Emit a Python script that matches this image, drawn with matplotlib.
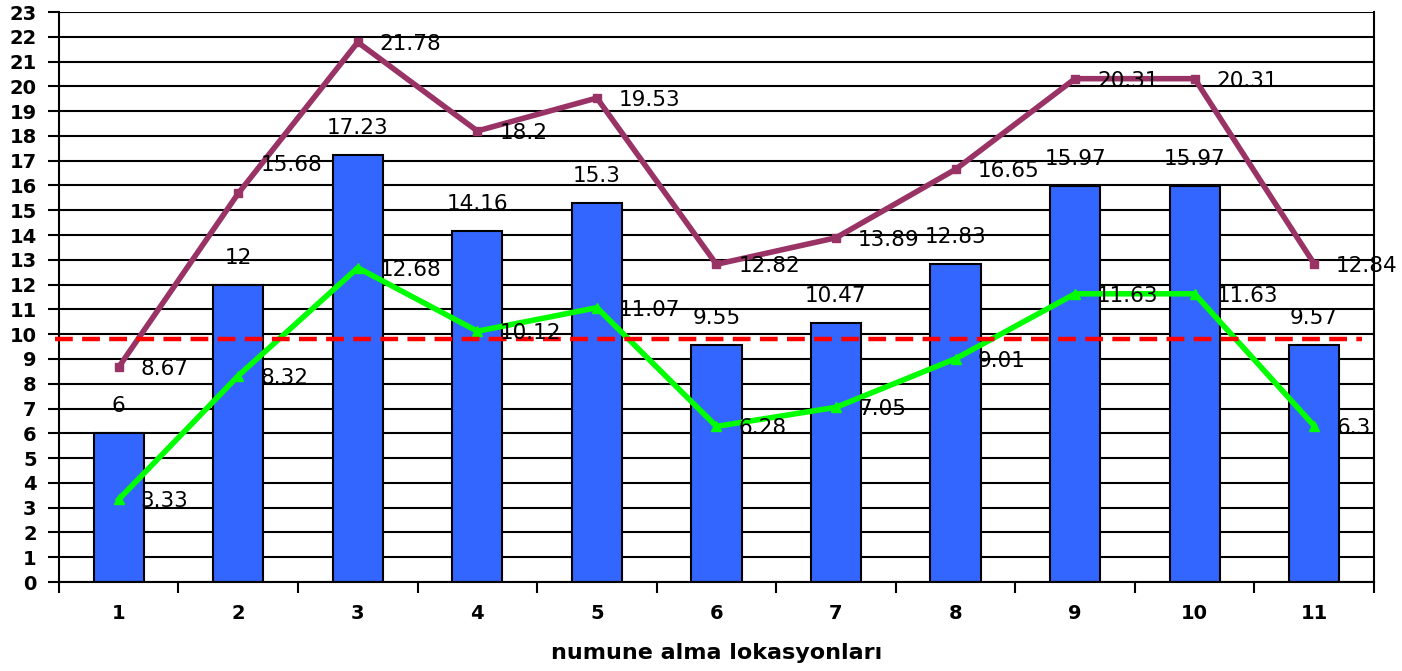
import numpy as np
import matplotlib
matplotlib.use('Agg')
import matplotlib.pyplot as plt

plt.rcParams['font.family'] = ['DejaVu Sans']

# veriler
lokasyon = ['1', '2', '3', '4', '5', '6', '7', '8', '9', '10', '11']
sutun = [6, 12, 17.23, 14.16, 15.3, 9.55, 10.47, 12.83, 15.97, 15.97, 9.57]
mor = [8.67, 15.68, 21.78, 18.2, 19.53, 12.82, 13.89, 16.65, 20.31, 20.31, 12.84]
yesil = [3.33, 8.32, 12.68, 10.12, 11.07, 6.28, 7.05, 9.01, 11.63, 11.63, 6.3]
sinir = 9.8

fig = plt.figure(figsize=(14.02, 6.71), dpi=100)
ax = fig.add_axes([0.042, 0.1326, 0.938, 0.8495])

x = np.arange(len(lokasyon))
ax.set_axisbelow(True)
ax.yaxis.grid(True, color='black', lw=1.5)

ax.bar(x, sutun, width=0.42, color='#3366FF', edgecolor='black', lw=1.5, zorder=2)
ax.plot(x, mor, color='#993366', lw=4, marker='s', ms=6, zorder=3)
ax.plot(x, yesil, color='#00FF00', lw=4, marker='^', ms=7, zorder=4)
ax.plot([-0.53, len(x) - 0.6], [sinir, sinir], color='#FF0000', lw=3.2,
        dashes=(4.0, 2.1), zorder=5, clip_on=False)

# etiketler
for i, v in enumerate(sutun):
    ax.annotate(f'{v:g}', (i, v), xytext=(0, 27), textcoords='offset pixels',
                ha='center', va='center', fontsize=15.5, zorder=6)
for i, v in enumerate(mor):
    dy = 28 if i == 1 else -2
    ax.annotate(f'{v:g}', (i, v), xytext=(22, dy), textcoords='offset pixels',
                ha='left', va='center', fontsize=15.5, zorder=6)
for i, v in enumerate(yesil):
    ax.annotate(f'{v:g}', (i, v), xytext=(22, -2), textcoords='offset pixels',
                ha='left', va='center', fontsize=15.5, zorder=6)

ax.set_xlim(-0.5, len(x) - 0.5)
ax.set_ylim(0, 23)
ax.set_yticks(range(0, 24))
ax.set_xticks(x)
ax.set_xticklabels(lokasyon)
ax.set_xticks(np.arange(-0.5, len(x)), minor=True)
ax.tick_params(axis='x', which='major', length=0, pad=16, labelsize=14)
ax.tick_params(axis='x', which='minor', length=8, width=1.5)
ax.tick_params(axis='y', length=8, width=1.5, pad=8, labelsize=14)
for lab in ax.get_xticklabels() + ax.get_yticklabels():
    lab.set_fontweight('bold')

ax.spines['top'].set_visible(False)
for s in ['left', 'bottom', 'right']:
    ax.spines[s].set_linewidth(1.5)

ax.set_xlabel('numune alma lokasyonları', fontsize=16, fontweight='bold', labelpad=14)

fig.savefig('out.png', dpi=100)
